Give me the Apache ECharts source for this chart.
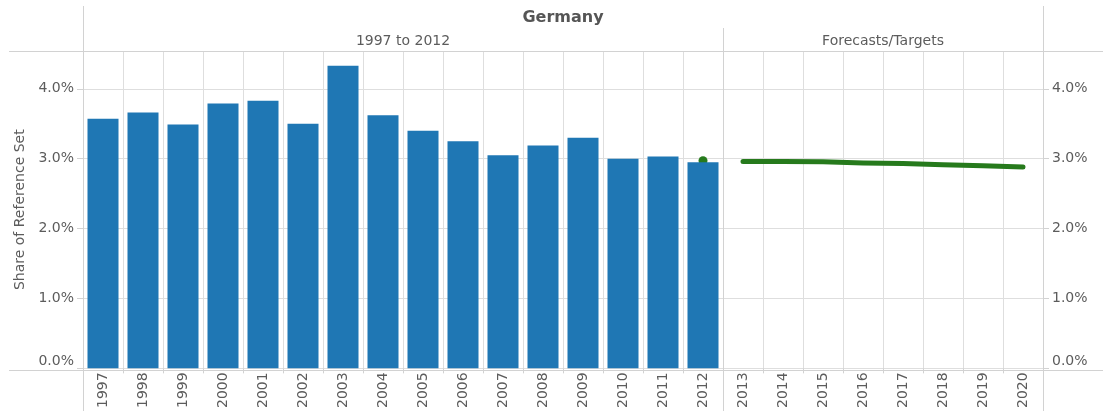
<!DOCTYPE html>
<html><head><meta charset="utf-8">
<script src="https://cdn.jsdelivr.net/npm/echarts@6/dist/echarts.min.js"></script>
<style>html,body{margin:0;padding:0;background:#fff}#c{width:1103px;height:411px}</style>
</head><body><div id="c"></div>
<script>
const years = ['1997','1998','1999','2000','2001','2002','2003','2004','2005','2006','2007','2008','2009','2010','2011','2012','2013','2014','2015','2016','2017','2018','2019','2020'];
const actualShare = [3.57,3.66,3.49,3.79,3.83,3.50,4.33,3.62,3.40,3.25,3.05,3.19,3.30,3.00,3.03,2.95,null,null,null,null,null,null,null,null];
const lastActualPoint = [null,null,null,null,null,null,null,null,null,null,null,null,null,null,null,2.97,null,null,null,null,null,null,null,null];
const forecastShare = [null,null,null,null,null,null,null,null,null,null,null,null,null,null,null,null,2.96,2.96,2.955,2.94,2.93,2.915,2.90,2.88];
const yTicks = [0,1,2,3,4];
const titleText = 'Germany';
const headerLeft = '1997 to 2012';
const headerRight = 'Forecasts/Targets';
const yName = 'Share of Reference Set';

const FONT = 'DejaVu Sans';
const TXT = '#5c5c5c';
const LINE = '#d2d2d2';
const GRID = '#dedede';
const chart = echarts.init(document.getElementById('c'));
const fmt = v => v.toFixed(1) + '%';
const yAxisBase = {
  type: 'value', min: 0, max: 4.541, interval: 1,
  axisLine: {show: false},
  axisTick: {show: true, length: 6, lineStyle: {color: LINE}},
  axisLabel: {
    formatter: v => !yTicks.includes(v) ? '' : (v === 0 ? '{z|' + fmt(v) + '}' : fmt(v)),
    rich: {z: {color: TXT, fontFamily: FONT, fontSize: 14, padding: [0, 0, 14, 0]}},
    color: TXT, fontFamily: FONT, fontSize: 14, margin: 9, showMaxLabel: false
  },
  splitLine: {show: true, lineStyle: {color: GRID, width: 1}}
};
const lineV = (x, y1, y2) => ({type: 'line', shape: {x1: x, y1: y1, x2: x, y2: y2}, style: {stroke: LINE, lineWidth: 1}, z: 10});
const lineH = (y, x1, x2) => ({type: 'line', shape: {x1: x1, y1: y, x2: x2, y2: y}, style: {stroke: LINE, lineWidth: 1}, z: 10});
chart.setOption({
  animation: false,
  grid: {left: 83, right: 60, top: 51, bottom: 41, containLabel: false},
  xAxis: {
    type: 'category', data: years, boundaryGap: true,
    axisLine: {show: false},
    axisTick: {show: true, length: 5, interval: 0, lineStyle: {color: LINE}},
    axisLabel: {rotate: 90, interval: 0, color: TXT, fontFamily: FONT, fontSize: 14, margin: 4},
    splitLine: {show: true, interval: 0, lineStyle: {color: GRID}}
  },
  yAxis: [
    Object.assign({}, yAxisBase, {position: 'left', name: yName, nameLocation: 'middle', nameGap: 52, nameTextStyle: {color: TXT, fontFamily: FONT, fontSize: 14}}),
    Object.assign({}, yAxisBase, {position: 'right', splitLine: {show: false}})
  ],
  series: [
    {type: 'bar', data: actualShare, barWidth: 31, itemStyle: {color: '#1f77b4'}, z: 2},
    {type: 'line', data: forecastShare, showSymbol: false, lineStyle: {color: '#267a1c', width: 5, cap: 'round', join: 'round'}, z: 3},
    {type: 'scatter', data: lastActualPoint, symbolSize: 9, itemStyle: {color: '#267a1c', opacity: 1}, z: 1}
  ],
  graphic: [
    lineV(83.5, 6, 411), lineV(1043.5, 6, 411), lineV(723.5, 28, 411),
    lineH(51.5, 9, 1103), lineH(370.5, 9, 1103),
    {type: 'text', x: 563, y: 18, style: {text: titleText, font: 'bold 16px "DejaVu Sans"', fill: '#555', textAlign: 'center', textVerticalAlign: 'middle'}},
    {type: 'text', x: 403, y: 41, style: {text: headerLeft, font: '14px "DejaVu Sans"', fill: TXT, textAlign: 'center', textVerticalAlign: 'middle'}},
    {type: 'text', x: 883, y: 41, style: {text: headerRight, font: '14px "DejaVu Sans"', fill: TXT, textAlign: 'center', textVerticalAlign: 'middle'}},
    {type: 'text', x: 1108, y: 210, rotation: -Math.PI/2, style: {text: yName, font: '14px "DejaVu Sans"', fill: TXT, textAlign: 'center', textVerticalAlign: 'middle'}}
  ]
});
</script></body></html>
